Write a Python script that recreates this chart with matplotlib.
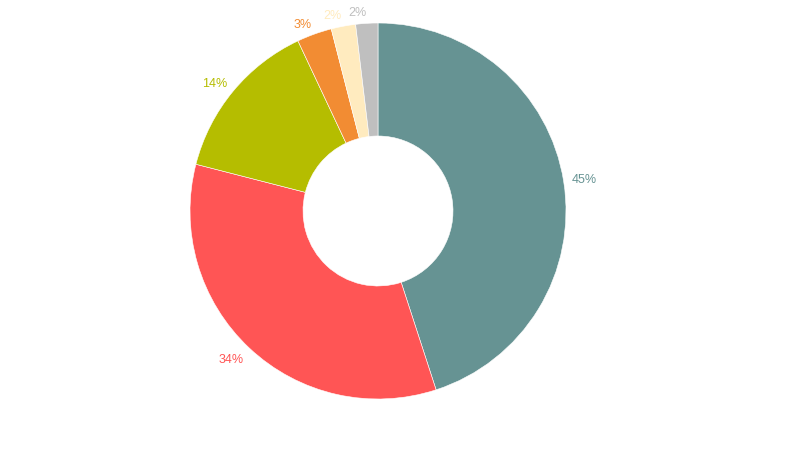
import matplotlib
matplotlib.use('Agg')
import matplotlib.pyplot as plt
import numpy as np

# slice data, clockwise from 12 o'clock
values = [45, 34, 14, 3, 2.1, 1.9]
labels = ['45%', '34%', '14%', '3%', '2%', '2%']
colors = ['#669393', '#FF5555', '#B5BD00', '#F28C33', '#FFEBBF', '#BFBFBF']

plt.rcParams['font.family'] = ['Liberation Sans', 'DejaVu Sans']

fig = plt.figure(figsize=(8, 4.5), dpi=100)
ax = fig.add_axes([0, 0, 1, 1])

R = 188
cx, cy = 378, 239
wedges, _ = ax.pie(values, colors=colors, startangle=90, counterclock=False,
                   center=(cx, cy), radius=R,
                   wedgeprops=dict(width=R - 75, edgecolor='white', linewidth=0.4))

# pie resets limits, so set pixel-like limits afterwards
ax.set_xlim(0, 800)
ax.set_ylim(0, 450)
ax.set_aspect('equal')
ax.axis('off')

# percent labels just outside the ring, in slice colour
for w, lab, c in zip(wedges, labels, colors):
    ang = np.deg2rad((w.theta1 + w.theta2) / 2)
    dx, dy = np.cos(ang), np.sin(ang)
    x = cx + 196 * dx
    y = cy + 196 * dy
    ha = 'left' if dx > 0 else 'right'
    va = 'top' if dy < -0.3 else 'center'
    if va == 'center' and dy > 0.3:
        y += 2
    ax.text(x, y, lab, color=c, fontsize=9, ha=ha, va=va)

fig.savefig('out.png', dpi=100)
